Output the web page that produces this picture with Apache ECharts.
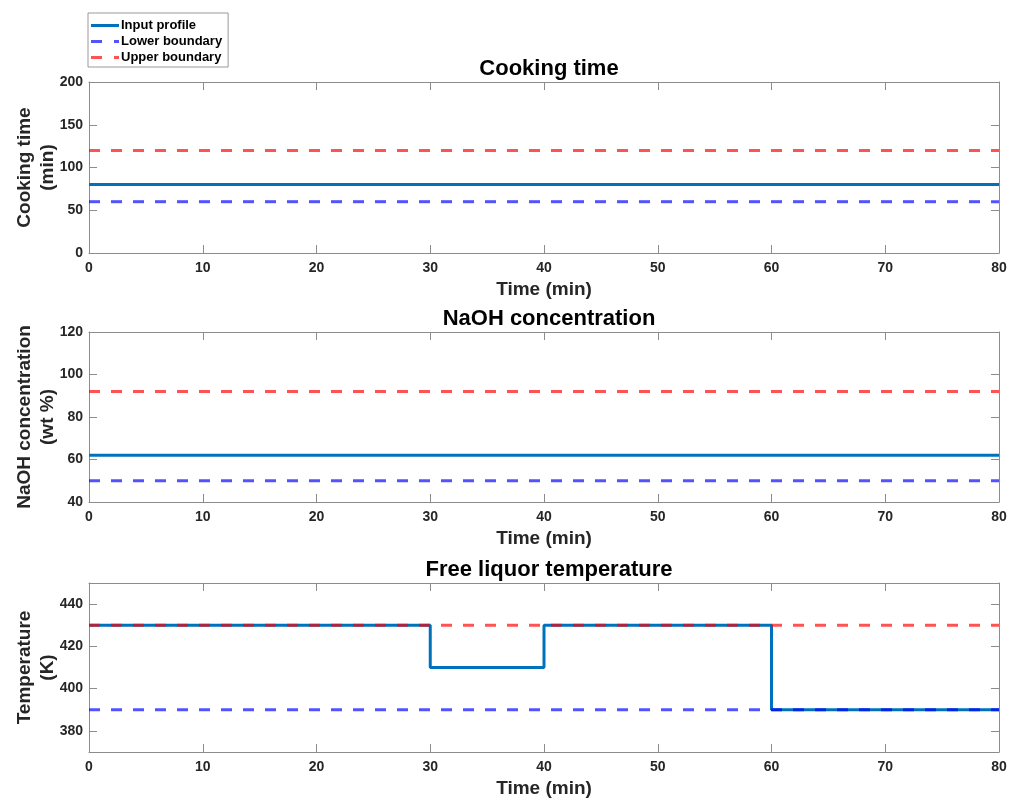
<!DOCTYPE html>
<html>
<head>
<meta charset="utf-8">
<script src="https://cdn.jsdelivr.net/npm/echarts@6/dist/echarts.min.js"></script>
<style>
    html, body { margin: 0; padding: 0; background: #fff; }
    #chart { width: 1014px; height: 799px; }
</style>
</head>
<body>
<div id="chart"></div>
<script>
// data
const timeRange = [0, 80];
const seriesNames = ['Input profile', 'Lower boundary', 'Upper boundary'];

const cookInput = [[0, 80], [80, 80]];
const cookLower = [[0, 60], [80, 60]];
const cookUpper = [[0, 120], [80, 120]];

const naohInput = [[0, 62], [80, 62]];
const naohLower = [[0, 50], [80, 50]];
const naohUpper = [[0, 92], [80, 92]];

const tempInput = [[0, 430], [30, 410], [40, 430], [60, 390], [80, 390]];
const tempLower = [[0, 390], [80, 390]];
const tempUpper = [[0, 430], [80, 430]];

const panelTitles = ['Cooking time', 'NaOH concentration', 'Free liquor temperature'];
const yNames = ['Cooking time\n(min)', 'NaOH concentration\n(wt %)', 'Temperature\n(K)'];
const yRanges = [[0, 200, 50], [40, 120, 20], [370, 450, 20]];
const tempTicks = [380, 400, 420, 440];

const font = 'Liberation Sans, Arial, sans-serif';
const boxColor = '#8c8c8c';
const labelColor = '#262626';
const colors = ['#0072bd', 'rgba(0,0,255,0.68)', 'rgba(255,0,0,0.68)'];

// legend icons: a solid line and a MATLAB-like dashed stub
const solidIcon = 'path://M0,0H28V3H0Z';
const dashIcon = 'path://M0,0H11V3H0Z M23,0H28V3H23Z';

const grids = [
    { left: 89, top: 82, width: 910, height: 171, outerBoundsMode: 'none' },
    { left: 89, top: 332, width: 910, height: 170, outerBoundsMode: 'none' },
    { left: 89, top: 583, width: 910, height: 169, outerBoundsMode: 'none' }
];

const xAxes = [];
const yAxes = [];
const series = [];
const titles = [];

grids.forEach((g, i) => {
    titles.push({
        text: panelTitles[i],
        left: g.left + g.width / 2,
        textAlign: 'center',
        top: g.top - 29,
        textStyle: { fontFamily: font, fontSize: 22, fontWeight: 'bold', color: '#000' }
    });
    // bottom axis with labels
    xAxes.push({
        gridIndex: i, type: 'value', min: timeRange[0], max: timeRange[1], interval: 10,
        name: 'Time (min)', nameLocation: 'middle', nameGap: 27,
        nameTextStyle: { fontFamily: font, fontSize: 19, fontWeight: 'bold', color: labelColor },
        axisLine: { onZero: false, lineStyle: { color: boxColor } },
        axisTick: { inside: true, length: 8, lineStyle: { color: boxColor } },
        axisLabel: { fontFamily: font, fontSize: 14, fontWeight: 'bold', color: labelColor, margin: 8 },
        splitLine: { show: false }
    });
    // top axis, ticks only
    xAxes.push({
        gridIndex: i, type: 'value', position: 'top', min: timeRange[0], max: timeRange[1], interval: 10,
        axisLine: { onZero: false, lineStyle: { color: boxColor } },
        axisTick: { inside: true, length: 8, lineStyle: { color: boxColor } },
        axisLabel: { show: false },
        splitLine: { show: false }
    });
    const r = yRanges[i];
    const yl = {
        gridIndex: i, type: 'value', min: r[0], max: r[1], interval: r[2],
        name: yNames[i], nameLocation: 'middle', nameGap: 30, nameMoveOverlap: false,
        nameTextStyle: { fontFamily: font, fontSize: 19, fontWeight: 'bold', color: labelColor, lineHeight: 23 },
        axisLine: { show: true, onZero: false, lineStyle: { color: boxColor } },
        axisTick: { show: true, inside: true, length: 8, lineStyle: { color: boxColor } },
        axisLabel: { fontFamily: font, fontSize: 14, fontWeight: 'bold', color: labelColor, margin: 6 },
        splitLine: { show: false }
    };
    const yr = {
        gridIndex: i, type: 'value', position: 'right', min: r[0], max: r[1], interval: r[2],
        axisLine: { show: true, onZero: false, lineStyle: { color: boxColor } },
        axisTick: { show: true, inside: true, length: 8, lineStyle: { color: boxColor } },
        axisLabel: { show: false },
        splitLine: { show: false }
    };
    if (i === 2) {
        delete yl.interval;
        delete yr.interval;
        yl.axisLabel.customValues = tempTicks;
        yl.axisTick.customValues = tempTicks;
        yr.axisTick.customValues = tempTicks;
    }
    yAxes.push(yl, yr);
});

const panels = [
    [cookInput, cookLower, cookUpper],
    [naohInput, naohLower, naohUpper],
    [tempInput, tempLower, tempUpper]
];

panels.forEach((p, i) => {
    p.forEach((d, k) => {
        series.push({
            name: seriesNames[k],
            type: 'line',
            xAxisIndex: i * 2,
            yAxisIndex: i * 2,
            data: d,
            step: k === 0 ? 'end' : false,
            symbol: 'none',
            silent: true,
            z: 2 + k,
            lineStyle: {
                color: colors[k],
                width: 3,
                type: k === 0 ? 'solid' : [11, 11]
            },
            itemStyle: { color: colors[k] }
        });
    });
});

const chart = echarts.init(document.getElementById('chart'));
chart.setOption({
    animation: false,
    title: titles,
    legend: {
        data: [
            { name: seriesNames[0], icon: solidIcon },
            { name: seriesNames[1], icon: dashIcon },
            { name: seriesNames[2], icon: dashIcon }
        ],
        orient: 'vertical',
        left: 88,
        top: 13,
        padding: [6, 6, 3, 3],
        itemGap: 3,
        itemWidth: 28,
        itemHeight: 3,
        borderColor: '#999',
        borderWidth: 1,
        borderRadius: 0,
        textStyle: { fontFamily: font, fontSize: 13, fontWeight: 'bold', color: '#000', padding: [0, 0, 0, -3] }
    },
    grid: grids,
    xAxis: xAxes,
    yAxis: yAxes,
    series: series
});
</script>
</body>
</html>
